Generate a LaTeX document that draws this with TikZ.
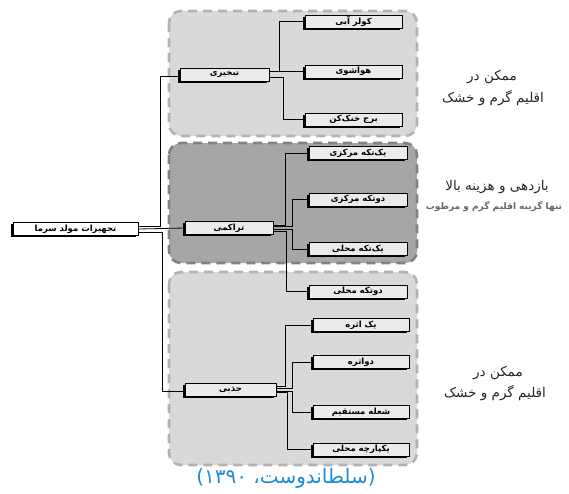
\documentclass[tikz,border=0pt]{standalone}
\usepackage{fontspec}
\setmainfont{DejaVu Sans}
\newfontfamily\fa[Script=Arabic]{DejaVu Sans}
\TeXXeTstate=1
\usepackage{xcolor}
\usetikzlibrary{positioning}
\usetikzlibrary{shadows}

\definecolor{lightzone}{RGB}{217,217,217}
\definecolor{darkzone}{RGB}{166,166,166}
\definecolor{lightedge}{RGB}{178,178,178}
\definecolor{darkedge}{RGB}{130,130,130}
\definecolor{capblue}{RGB}{30,140,215}

\begin{document}
\begin{tikzpicture}[x=1pt, y=-1pt]

                \useasboundingbox (0,0) rectangle (569,493);

                % Styles for the boxes, the dashed zones and the side notes
                \tikzset{
                    item/.style={draw, line width=0.9pt, fill=black!8,
                        minimum height=13pt, inner sep=0pt,
                        font=\fa\bfseries\fontsize{8.5}{9}\selectfont,
                        drop shadow={shadow xshift=-1.8pt, shadow yshift=-1.8pt,
                            fill=black, opacity=1}},
                    zone/.style={line width=2.6pt, dash pattern=on 9pt off 6pt,
                        rounded corners=12pt},
                    link/.style={line width=0.8pt},
                    note/.style={font=\fa\fontsize{13.5}{15}\selectfont, text=black!85}
                }

                % Zones behind the three groups
                \draw[zone, draw=lightedge, fill=lightzone] (169,11) rectangle (417,136);
                \draw[zone, draw=darkedge, fill=darkzone] (169,143) rectangle (417,263);
                \draw[zone, draw=lightedge, fill=lightzone] (169,272) rectangle (417,465);

                % Scope holding the boxes
                \begin{scope}

                    \node[item, fill=white, minimum width=125pt] (root) at (75.5,229)
                    {\beginR تجهیزات مولد سرما\endR};

                    \node[item, minimum width=89pt] (tab) at (224.5,74.5)
                    {\beginR تبخیری\endR};
                    \node[item, minimum width=97pt] (t1) at (353.5,21.5)
                    {\beginR کولر آبی\endR};
                    \node[item, minimum width=97pt] (t2) at (353.5,71.5)
                    {\beginR هواشوی\endR};
                    \node[item, minimum width=97pt] (t3) at (353.5,119.5)
                    {\beginR برج خنک‌کن\endR};

                    \node[item, minimum width=88pt] (tar) at (229,228)
                    {\beginR تراکمی\endR};
                    \node[item, minimum width=98pt] (m1) at (358,153)
                    {\beginR یک‌تکه مرکزی\endR};
                    \node[item, minimum width=98pt] (m2) at (358,199.5)
                    {\beginR دوتکه مرکزی\endR};
                    \node[item, minimum width=98pt] (m3) at (358,249)
                    {\beginR یک‌تکه محلی\endR};
                    \node[item, minimum width=98pt] (m4) at (358,291.5)
                    {\beginR دوتکه محلی\endR};

                    \node[item, minimum width=91pt] (jaz) at (230.5,389.5)
                    {\beginR جذبی\endR};
                    \node[item, minimum width=96pt] (j1) at (361,325)
                    {\beginR یک اثره\endR};
                    \node[item, minimum width=96pt] (j2) at (361,362)
                    {\beginR دواثره\endR};
                    \node[item, minimum width=96pt] (j3) at (361,412)
                    {\beginR شعله مستقیم\endR};
                    \node[item, minimum width=96pt] (j4) at (361,449.5)
                    {\beginR یکپارچه محلی\endR};
                \end{scope}

                \begin{scope}[link]
                    \draw ([yshift=3pt]root.east) -- ++(22,0) |- ([yshift=-2pt]tab.west);
                    \draw (root.east) -- (tar.west);
                    \draw ([yshift=-3pt]root.east) -- ++(24,0) |- ([yshift=-2pt]jaz.west);

                    \draw ([yshift=3pt]tab.east) -- ++(10,0) |- (t1.west);
                    \draw ([yshift=3pt]tab.east) -- ++(10,0) |- (t2.west);
                    \draw ([yshift=-3pt]tab.east) -- ++(14,0) |- (t3.west);

                    \draw ([yshift=3pt]tar.east) -- ++(12,0) |- (m1.west);
                    \draw ([yshift=1.5pt]tar.east) -- ++(19,0) |- (m2.west);
                    \draw ([yshift=-1.5pt]tar.east) -- ++(19,0) |- (m3.west);
                    \draw ([yshift=-3pt]tar.east) -- ++(13,0) |- (m4.west);

                    \draw ([yshift=3pt]jaz.east) -- ++(9,0) |- (j1.west);
                    \draw ([yshift=1.5pt]jaz.east) -- ++(16,0) |- (j2.west);
                    \draw ([yshift=-1.5pt]jaz.east) -- ++(16,0) |- (j3.west);
                    \draw ([yshift=-3pt]jaz.east) -- ++(11,0) |- (j4.west);
                \end{scope}

                % Notes on the right
                \node[note] (n1) at (492,77) {\beginR ممکن در\endR};
                \node[note] (n2) at (493,98) {\beginR اقلیم گرم و خشک\endR};
                \node[note] (n3) at (497,187) {\beginR بازدهی و هزینه بالا\endR};
                \node[note, font=\fa\bfseries\fontsize{9}{10}\selectfont, text=black!60]
                    (n4) at (494,207) {\beginR تنها گزینه اقلیم گرم و مرطوب\endR};
                \node[note] (n5) at (498,373) {\beginR ممکن در\endR};
                \node[note] (n6) at (495,393) {\beginR اقلیم گرم و خشک\endR};

                \node[font=\fa\fontsize{20}{22}\selectfont, text=capblue] (cap) at (286,478)
                {\beginR(سلطاندوست، ۱۳۹۰)\endR};

\end{tikzpicture}
\end{document}
